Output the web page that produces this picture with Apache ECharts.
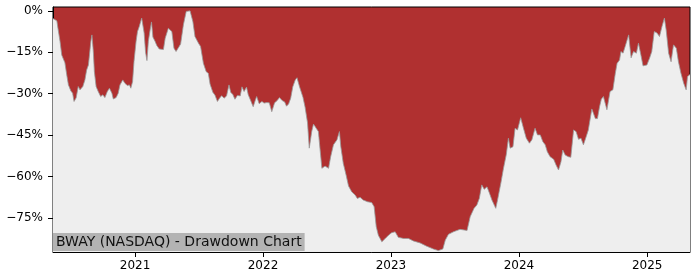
<!DOCTYPE html>
<html>
<head>
<meta charset="utf-8">
<script src="https://cdn.jsdelivr.net/npm/echarts@6/dist/echarts.min.js"></script>
<style>html,body{margin:0;padding:0;background:#fff}#c{width:700px;height:280px}</style>
</head>
<body>
<div id="c"></div>
<script>
const title = 'BWAY (NASDAQ) - Drawdown Chart';
const dates = [
'2020-05-12','2020-05-23','2020-05-26','2020-06-01','2020-06-06','2020-06-10','2020-06-15','2020-06-20','2020-06-25','2020-07-02',
'2020-07-07','2020-07-11','2020-07-17','2020-07-23','2020-07-28','2020-08-05','2020-08-11','2020-08-16','2020-08-21','2020-08-24',
'2020-08-28','2020-08-31','2020-09-04','2020-09-07','2020-09-12','2020-09-18','2020-09-25','2020-10-01','2020-10-07','2020-10-14',
'2020-10-20','2020-10-27','2020-10-31','2020-11-08','2020-11-14','2020-11-19','2020-11-27','2020-12-03','2020-12-10','2020-12-16',
'2020-12-20','2020-12-25','2020-12-29','2021-01-04','2021-01-08','2021-01-13','2021-01-20','2021-01-23','2021-01-27','2021-01-31',
'2021-02-04','2021-02-08','2021-02-13','2021-02-17','2021-02-21','2021-02-27','2021-03-04','2021-03-11','2021-03-16','2021-03-23',
'2021-03-28','2021-04-06','2021-04-11','2021-04-16','2021-04-22','2021-04-28','2021-05-05','2021-05-11','2021-05-19','2021-05-27',
'2021-06-07','2021-06-15','2021-06-21','2021-07-01','2021-07-07','2021-07-15','2021-07-23','2021-07-29','2021-08-03','2021-08-11',
'2021-08-17','2021-08-24','2021-08-30','2021-09-05','2021-09-12','2021-09-19','2021-09-26','2021-10-01','2021-10-07','2021-10-13',
'2021-10-20','2021-10-28','2021-11-02','2021-11-08','2021-11-15','2021-11-20','2021-11-27','2021-12-04','2021-12-10','2021-12-14',
'2021-12-21','2021-12-29','2022-01-04','2022-01-12','2022-01-19','2022-01-26','2022-02-03','2022-02-10','2022-02-17','2022-02-24',
'2022-03-04','2022-03-09','2022-03-15','2022-03-21','2022-03-27','2022-04-03','2022-04-08','2022-04-15','2022-04-25','2022-05-01',
'2022-05-08','2022-05-13','2022-05-20','2022-05-25','2022-05-30','2022-06-08','2022-06-13','2022-06-18','2022-06-27','2022-07-07',
'2022-07-13','2022-07-21','2022-07-31','2022-08-07','2022-08-11','2022-08-18','2022-08-26','2022-09-02','2022-09-11','2022-09-21',
'2022-09-27','2022-10-05','2022-10-14','2022-10-26','2022-11-07','2022-11-14','2022-11-20','2022-11-26','2022-12-06','2022-12-11',
'2022-12-15','2022-12-25','2023-01-03','2023-01-13','2023-01-18','2023-01-22','2023-02-06','2023-02-20','2023-03-06','2023-03-25',
'2023-04-13','2023-05-02','2023-05-16','2023-05-29','2023-06-05','2023-06-14','2023-06-28','2023-07-17','2023-08-06','2023-08-15',
'2023-08-26','2023-09-03','2023-09-10','2023-09-17','2023-09-24','2023-10-02','2023-10-09','2023-10-16','2023-10-27','2023-11-01',
'2023-11-07','2023-11-11','2023-11-18','2023-11-26','2023-12-02','2023-12-07','2023-12-15','2023-12-21','2023-12-28','2024-01-06',
'2024-01-14','2024-01-22','2024-01-31','2024-02-07','2024-02-16','2024-02-23','2024-03-02','2024-03-09','2024-03-16','2024-03-22',
'2024-03-30','2024-04-09','2024-04-16','2024-04-23','2024-04-30','2024-05-05','2024-05-12','2024-05-21','2024-05-28','2024-06-05',
'2024-06-12','2024-06-19','2024-06-26','2024-07-03','2024-07-11','2024-07-17','2024-07-22','2024-07-27','2024-08-06','2024-08-12',
'2024-08-18','2024-08-23','2024-08-29','2024-09-08','2024-09-17','2024-09-25','2024-10-02','2024-10-07','2024-10-14','2024-10-18',
'2024-10-24','2024-10-30','2024-11-09','2024-11-16','2024-11-23','2024-12-01','2024-12-07','2024-12-14','2024-12-20','2024-12-31',
'2025-01-08','2025-01-14','2025-01-21','2025-01-29','2025-02-05','2025-02-12','2025-02-19','2025-02-24','2025-03-03','2025-03-10',
'2025-03-17','2025-03-25','2025-03-31','2025-04-07','2025-04-15','2025-04-22','2025-04-26','2025-05-03'
];
const drawdown = [
-2.8,-3.6,-6.2,-11,-16,-16.5,-18.8,-23,-26.8,-29,
-29.8,-32.8,-31.5,-27.4,-28.6,-27.4,-25,-21.4,-19.6,-16,
-11,-8.7,-14.7,-22,-27.4,-29.2,-31,-30.4,-31.4,-29.2,
-28,-29.8,-31.9,-31.4,-29.8,-26.8,-25,-26.2,-27,-26.8,
-28,-25.6,-18.4,-11,-7.5,-5.7,-2.6,-2,-8,-15,
-18,-11,-6.9,-4,-9.5,-11,-12.5,-13.8,-13.3,-14,
-9.9,-6.3,-6.5,-7.5,-13.5,-14.7,-13.3,-12,-5,-0.2,
0,-3.9,-9.3,-11.7,-12.9,-19,-22,-22.6,-26.5,-29.5,
-30.5,-32.8,-31.6,-30.7,-31.6,-30.8,-26.8,-29.5,-30.3,-32,
-30.6,-30.8,-27.5,-29.2,-27.6,-30.4,-32.5,-34.7,-32.4,-31,
-33.6,-32.8,-33.4,-33.2,-33.3,-36.5,-33.3,-32.5,-31.4,-32.4,
-33,-34.5,-33.7,-31.6,-27.5,-25,-24.2,-27.4,-31.3,-34.8,
-40.5,-49.7,-43.7,-41,-41.5,-43.7,-50.4,-57,-56.2,-57,
-52.8,-48.5,-46.7,-43.7,-49.2,-55.2,-59.4,-63.4,-65.5,-66.7,
-67.9,-67.5,-68.5,-69.1,-69.4,-70.9,-78.1,-81.2,-83.6,-84.2,
-82.5,-81.2,-80.3,-80,-79.5,-82,-82.4,-82.4,-83.3,-84,
-85.2,-86.2,-86.8,-86.2,-83,-80.9,-80,-79.1,-79.5,-74.5,
-71.5,-70.3,-67.9,-63,-64.6,-63.7,-66,-68.5,-71.5,-68.5,
-64.6,-62,-57,-52,-46.1,-49.7,-49.2,-42.5,-43.1,-38.7,
-42.5,-46.1,-47.9,-46.7,-42.5,-44.9,-44.9,-47.3,-48.5,-51,
-52.8,-53.7,-55.8,-57.6,-54.6,-50.4,-52.2,-52.8,-53,-43.1,
-43.7,-46.5,-46.1,-48.5,-45.5,-43.1,-43.7,-35.5,-39,-39,
-34.7,-32,-31,-35.8,-29.2,-28.6,-22.6,-19,-17.8,-14.7,
-15.3,-12.9,-8.7,-17,-14.7,-15.3,-11.7,-16,-19.9,-19.6,
-17,-14.7,-7.5,-8,-9.3,-5.7,-2.6,-6.9,-15.3,-18.4,
-12.3,-13.5,-18.4,-22.5,-26.2,-28.6,-23.8,-23
];
const yearTicks = ['2021-01-01','2022-01-01','2023-01-01','2024-01-01','2025-01-01'];
const yTicks = [0,-15,-30,-45,-60,-75];

const ts = d => Date.parse(d + 'T00:00:00Z');
const seriesData = dates.map((d,i)=>[ts(d), drawdown[i]]);
const xTickVals = yearTicks.map(ts);
const chart = echarts.init(document.getElementById('c'), null, {renderer:'canvas'});
const font = 'DejaVu Sans';
chart.setOption({
  animation:false,
  backgroundColor:'#ffffff',
  grid:{left:53,right:10,top:7,bottom:28,show:true,backgroundColor:'#b03030',borderColor:'#000',borderWidth:1,containLabel:false},
  xAxis:{
    type:'value',
    min:ts('2020-05-12'), max:ts('2025-05-03'),
    axisLine:{show:true,onZero:false,lineStyle:{color:'#000',width:1}},
    axisTick:{show:true,length:5,lineStyle:{color:'#000'},customValues:xTickVals},
    axisLabel:{color:'#000',fontFamily:font,fontSize:12,margin:8,
      customValues:xTickVals,
      formatter:v=>String(new Date(v).getUTCFullYear())},
    splitLine:{show:false}
  },
  yAxis:{
    type:'value',
    min:-87.3, max:1.4,
    axisLine:{show:true,lineStyle:{color:'#000',width:1}},
    axisTick:{show:true,length:5,lineStyle:{color:'#000'},customValues:yTicks},
    axisLabel:{color:'#000',fontFamily:font,fontSize:12,margin:10,customValues:yTicks,
      formatter:v=>(v<0?'\u2212':'')+Math.abs(v)+'%'},
    splitLine:{show:false}
  },
  series:[{
    type:'line',
    data:seriesData,
    symbol:'none',
    lineStyle:{color:'#999',width:0.8},
    areaStyle:{color:'#eeeeee',opacity:1,origin:'start'}
  }],
  graphic:[{
    type:'text',
    left:53, top:233,
    z:100,
    style:{text:title,font:'14px DejaVu Sans',fill:'#111',backgroundColor:'#b3b3b3',padding:[2,3,2,3]}
  }]
});
</script>
</body>
</html>
